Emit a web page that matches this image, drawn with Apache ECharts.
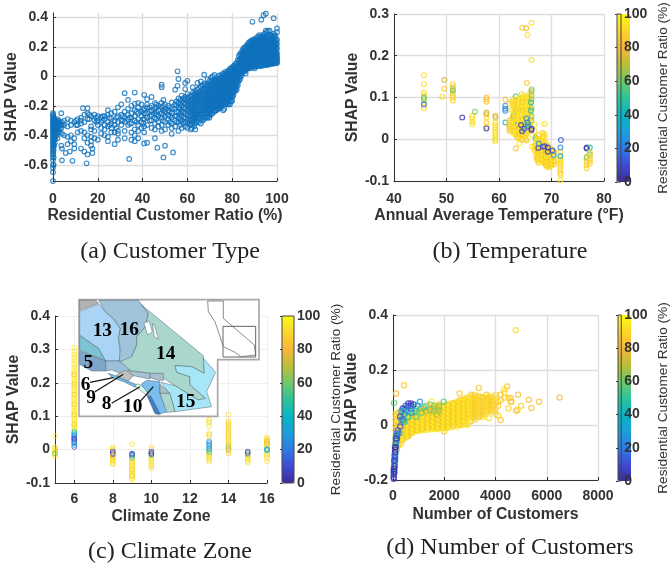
<!DOCTYPE html>
<html><head><meta charset="utf-8">
<style>html,body{margin:0;padding:0;background:#fff}#c{width:671px;height:565px}</style>
<script src="https://cdn.jsdelivr.net/npm/echarts@6/dist/echarts.min.js"></script>
</head><body><div id="c"></div>
<script>
// ---------- data ----------
const yTicksA=[-0.6,-0.4,-0.2,0,0.2,0.4];
const xTicksC=[6,8,10,12,14,16];
const captions=['(a) Customer Type','(b) Temperature','(c) Climate Zone','(d) Number of Customers'];
const ratioName='Residential Customer Ratio (%)';

// panel a: [ratio, [shap...]]
const aColumns=[
[0,[-.71,-.65,-.62,-.6,-.57,-.55,-.53,-.51,-.49,-.47,-.45,-.43,-.41,-.39,-.37,-.35,-.33,-.31,-.29,-.27,-.25]],
[.3,[-.6,-.55,-.5,-.46,-.42,-.38,-.36,-.34,-.32,-.3,-.28]],
[.8,[-.45,-.41,-.38,-.35,-.33,-.31,-.29]],[1.5,[-.4,-.37,-.35,-.33,-.31,-.3]],[2.5,[-.37,-.34,-.32,-.3]],
[3.7,[-.47,-.35,-.33,-.25]],[4,[-.57,-.49,-.39,-.33,-.31]],
[5,[-.4,-.3,-.33]],[5.7,[-.52]],[6.5,[-.29,-.41,-.34,-.46]],[7.5,[-.51]],[8,[-.3,-.4,-.44,-.33]],[8.7,[-.573]],[9.5,[-.31,-.42,-.46,-.49]],
[11,[-.29,-.38,-.33]],[12.5,[-.3,-.37,-.32,-.28,-.49]],[13.4,[-.216]],[14,[-.26,-.31,-.38,-.42,-.51]],[15,[-.59]],[15.4,[-.216,-.25,-.29,-.4,-.45,-.53]],
[17,[-.27,-.34,-.36,-.41,-.44,-.47]],[17.6,[-.52,-.49]],[18.5,[-.26,-.3,-.37,-.42]],[20,[-.27,-.3,-.33,-.43]],[21.5,[-.28,-.31,-.35,-.39]],
[23,[-.27,-.29,-.33,-.36,-.4]],[24.5,[-.23,-.26,-.31,-.34,-.41,-.44]],[26,[-.25,-.29,-.32,-.35,-.38]],[27.5,[-.24,-.3,-.33,-.46,-.38]],
[29,[-.21,-.27,-.31,-.37,-.39,-.43]],[30.5,[-.19,-.26,-.3,-.33]],[32,[-.114,-.24,-.28,-.31,-.37,-.42]],[33.5,[-.16,-.22,-.26,-.29,-.33]],[34,[-.56]],
[35,[-.2,-.25,-.28,-.32,-.38,-.43]],[36.5,[-.11,-.186,-.23,-.27,-.3,-.36,-.4,-.44]],[38,[-.18,-.21,-.25,-.29,-.33,-.37,-.42]],[39.5,[-.19,-.24,-.27,-.31,-.35]],
[40.7,[-.125,-.22,-.25,-.29,-.34,-.38,-.455]],[42,[-.155,-.19,-.21,-.25,-.28,-.33,-.45]],[44,[-.14,-.2,-.23,-.26,-.3,-.35]],[45.5,[-.18,-.22,-.25,-.28,-.32,-.36,-.42]],
[46.6,[-.484]],[47,[-.2,-.23,-.27,-.31,-.34]],[48.5,[-.057,-.073,-.18,-.21,-.25,-.28,-.33,-.37]],[49.3,[-.16,-.55]],[50,[-.19,-.22,-.24,-.27,-.31,-.36,-.47]],
[51.5,[-.2,-.23,-.26,-.29,-.33]],[53,[-.177,-.22,-.25,-.28,-.32,-.35,-.39]],[53.6,[-.516]],[54.5,[-.19,-.22,-.27,-.3,-.34,-.09]],[55.6,[.034,-.064]],
[56,[-.018,-.15,-.18,-.21,-.24,-.28,-.31,-.37]],[57.5,[-.13,-.17,-.2,-.24,-.27,-.3,-.35]],[59,[-.045,-.086,-.14,-.16,-.19,-.22,-.25,-.28,-.31,-.34]],
[60,[-.03,-.12,-.15,-.18,-.2,-.23,-.26,-.29,-.31,-.35]],[61.5,[-.13,-.16,-.19,-.21,-.24,-.27,-.3,-.33,-.36]],[62.4,[-.073,-.11,-.15,-.18,-.22,-.25,-.28,-.31]],
[63.5,[-.1,-.13,-.16,-.19,-.21,-.24,-.26,-.29,-.32,-.36]],[64.5,[-.045,-.09,-.12,-.15,-.17,-.2,-.22,-.25,-.27,-.3]],[66,[-.034,-.07,-.1,-.125,-.15,-.17,-.19,-.22,-.24,-.26,-.29,-.32]],
[67.5,[.011,-.05,-.08,-.1,-.12,-.14,-.16,-.18,-.2,-.22,-.24,-.27,-.29]],[69,[-.02,-.05,-.07,-.09,-.11,-.13,-.15,-.17,-.19,-.21,-.23,-.25,-.27,-.28]],
[70.5,[-.01,-.04,-.06,-.08,-.1,-.12,-.14,-.16,-.18,-.2,-.22,-.24,-.26]],[72,[.01,-.02,-.04,-.06,-.08,-.1,-.12,-.14,-.16,-.18,-.2,-.22,-.24]],
[73,[-.01,-.03,-.05,-.07,-.09,-.11,-.13,-.15,-.17,-.19,-.21,-.23]],[74,[.005,-.02,-.04,-.06,-.08,-.1,-.12,-.14,-.16,-.18,-.2,-.22]],
[75,[.01,-.01,-.03,-.05,-.07,-.09,-.11,-.13,-.15,-.17,-.19,-.21]],[76,[.02,0,-.02,-.04,-.06,-.08,-.1,-.12,-.14,-.16,-.18,-.23]],
[77,[.03,.01,-.01,-.03,-.05,-.07,-.09,-.11,-.13,-.15,-.17,-.19]],[78,[.035,.015,-.005,-.025,-.045,-.065,-.085,-.105,-.125,-.145,-.165,-.19]],
[79,[.05,.03,.01,-.01,-.03,-.05,-.07,-.09,-.11,-.13,-.15,-.17,-.19]],[80,[.06,.04,.02,0,-.02,-.04,-.06,-.08,-.1,-.12,-.14,-.165]],
[81,[.075,.055,.035,.015,-.005,-.025,-.045,-.065,-.085,-.105]],[82,[.09,.07,.05,.03,.01,-.01,-.03,-.05,-.07,-.09]],
[83,[.14,.11,.09,.07,.05,.03,.01,-.01,-.03]],[84,[.16,.14,.12,.1,.08,.06,.04,.02,0]],[85,[.19,.17,.15,.13,.11,.09,.07,.05,.03]],
[86,[.2,.18,.16,.14,.12,.1,.08,.06,.04,.02]],[87,[.22,.2,.18,.16,.14,.12,.1,.08,.06]],[88,[.235,.21,.19,.17,.15,.13,.11,.09,.07,.055]],
[89,[.245,.225,.205,.185,.165,.145,.125,.105,.085,.065,.37]],[90,[.25,.23,.21,.19,.17,.15,.13,.11,.09,.07,.055]],[91,[.25,.23,.21,.19,.17,.15,.13,.11,.09,.07]],
[92,[.28,.26,.24,.22,.2,.18,.16,.14,.12,.1,.08,.07]],[93,[.385,.275,.25,.23,.21,.19,.17,.15,.13,.11,.09,.07]],[94,[.27,.25,.23,.21,.19,.17,.15,.13,.11,.09,.075,.415]],
[95,[.425,.31,.27,.25,.23,.21,.19,.17,.15,.13,.11,.09,.075]],[96,[.31,.28,.26,.24,.22,.2,.18,.16,.14,.12,.1,.08]],[96.7,[.31,.25,.23,.21,.19,.17,.15,.13,.11,.09,.08]],
[97.5,[.28,.26,.24,.22,.2,.18,.16,.14,.12,.1,.085]],[98.5,[.395,.29,.27,.24,.22,.2,.18,.16,.14,.12,.1,.085]],[99.3,[.27,.23,.2,.18,.16,.14,.12,.1,.09]],
[100,[.325,.3,.25,.22,.19,.16,.14,.125,.11,.1,.09]]
];
// panel a, second reading of the crowded parts: [ratio, [shap...]]
const aDense=[
[.1,[-.52,-.48,-.44,-.4,-.36,-.34,-.32,-.3,-.26]],[.5,[-.47,-.43,-.4,-.37,-.33,-.31,-.29]],[1,[-.42,-.39,-.36,-.34,-.32,-.3]],[2,[-.42,-.38,-.35,-.32,-.29]],
[3,[-.38,-.36,-.32,-.31]],[10.3,[-.33,-.3]],[16.2,[-.26,-.29]],[19.3,[-.28,-.31]],[22.2,[-.27,-.3]],[25.3,[-.28,-.33]],[28.3,[-.28,-.35]],
[31.2,[-.27,-.3]],[34.3,[-.28,-.32]],[37.3,[-.24,-.31]],[40.3,[-.23,-.29,-.32]],[43.2,[-.21,-.24,-.27,-.3]],
[46.2,[-.19,-.21,-.24,-.26,-.29]],[49.2,[-.2,-.23,-.26,-.3]],[52.2,[-.21,-.24,-.27,-.31]],[55.2,[-.17,-.2,-.24,-.27,-.31]],[56.8,[-.16,-.19,-.22,-.25,-.29,-.33]],[58.2,[-.15,-.18,-.21,-.24,-.28,-.32]],
[60.7,[-.14,-.17,-.19,-.22,-.24,-.27,-.3,-.32]],[62,[-.13,-.16,-.2,-.23,-.26,-.29,-.32,-.35]],[63,[-.12,-.15,-.17,-.2,-.23,-.27,-.3,-.34]],[64,[-.11,-.14,-.16,-.18,-.23,-.26,-.28,-.31]],
[65.2,[-.08,-.11,-.13,-.16,-.18,-.21,-.23,-.26,-.28,-.31]],[66.8,[-.06,-.09,-.11,-.13,-.15,-.18,-.2,-.23,-.25,-.28,-.3]],[68.2,[-.06,-.09,-.11,-.13,-.15,-.17,-.19,-.21,-.23,-.25,-.28]],
[69.8,[-.03,-.06,-.08,-.1,-.12,-.14,-.16,-.18,-.2,-.22,-.24,-.26,-.28]],[71.2,[0,-.03,-.05,-.07,-.09,-.11,-.13,-.15,-.17,-.19,-.21,-.23,-.25]],[72.5,[-.03,-.05,-.07,-.09,-.11,-.13,-.15,-.17,-.19,-.21,-.23]],
[73.5,[-.02,-.04,-.06,-.08,-.1,-.12,-.14,-.16,-.18,-.2,-.22]],[74.5,[-.015,-.035,-.055,-.075,-.095,-.115,-.135,-.155,-.175,-.195,-.215]],[75.5,[0,-.02,-.04,-.06,-.08,-.1,-.12,-.14,-.16,-.18,-.2]],
[76.5,[.01,-.01,-.03,-.05,-.07,-.09,-.11,-.13,-.15,-.17,-.19,-.22]],[77.5,[.02,0,-.02,-.04,-.06,-.08,-.1,-.12,-.14,-.16,-.18]],[78.5,[.04,.02,0,-.02,-.04,-.06,-.08,-.1,-.12,-.14,-.16,-.19]],
[79.5,[.055,.035,.015,-.005,-.025,-.045,-.065,-.085,-.105,-.125,-.145,-.17]],[80.5,[.07,.05,.03,.01,-.01,-.03,-.05,-.07,-.09,-.11,-.13]],[81.5,[.085,.065,.045,.025,.005,-.015,-.035,-.055,-.075,-.095]],
[82.5,[.11,.08,.06,.04,.02,0,-.02,-.04,-.06]],[83.5,[.15,.12,.1,.08,.06,.04,.02,0,-.02]],[84.5,[.175,.15,.13,.11,.09,.07,.05,.03]],[85.5,[.195,.17,.15,.13,.11,.09,.07,.05,.035]],
[86.5,[.21,.19,.17,.15,.13,.11,.09,.07,.05]],[87.5,[.23,.21,.19,.17,.15,.13,.11,.09,.07,.06]],[88.5,[.24,.22,.2,.18,.16,.14,.12,.1,.08,.06]],[89.5,[.25,.23,.21,.19,.17,.15,.13,.11,.09,.07]],
[90.5,[.26,.24,.22,.2,.18,.16,.14,.12,.1,.08,.065]],[91.5,[.27,.24,.22,.2,.18,.16,.14,.12,.1,.08,.07]],[92.5,[.27,.25,.23,.21,.19,.17,.15,.13,.11,.09,.075]],[93.5,[.28,.26,.24,.22,.2,.18,.16,.14,.12,.1,.08]],
[94.5,[.29,.26,.24,.22,.2,.18,.16,.14,.12,.1,.08]],[95.5,[.3,.27,.25,.23,.21,.19,.17,.15,.13,.11,.09,.08]],[96.4,[.27,.25,.23,.21,.19,.17,.15,.13,.11,.09]],[97.1,[.28,.24,.22,.2,.18,.16,.14,.12,.1,.09]],
[98,[.27,.25,.23,.21,.19,.17,.15,.13,.11,.09]],[99,[.28,.25,.22,.2,.17,.15,.13,.11,.095]],[99.7,[.24,.21,.18,.16,.14,.12,.105,.095]]
];

// panels b, c, d: [x, ratio, [shap...]]
const bGroups=[
[45.7,92,[.153,.132,.112,.106,.1,.087,.075]],[45.7,60,[.1,.095]],[45.7,15,[.083]],
[49.2,88,[.102]],[49.6,72,[.142]],[49.6,85,[.121]],
[51.2,88,[.132,.125,.11,.105,.1,.093]],[51.2,65,[.12,.116]],
[53,5,[.052]],[54.9,92,[.056,.05,.042,.036]],[55.4,62,[.066]],
[57.6,84,[.1,.095,.09]],[57.6,74,[.064,.06]],[57.6,90,[.052,.04,.03]],[57.6,4,[.026]],
[59.3,76,[.056,.052]],[59.3,92,[.04,.034,.028,.022,.016,.01,.005,0,-.005]],
[61.2,84,[.095]],[61.2,25,[.08,.073,.068]],[61.2,42,[.04]],
[62,85,[.085,.045,.04,.035,.03,.025,.02]],
[62.7,96,[.095,.085,.075,.065,.055,.045,.035,.025,.015]],[62.8,40,[.055]],
[63.1,96,[.09,.08,.07,.06,.05,.04,.03,.02,.01]],[63.2,85,[-.022]],[63.2,55,[.103,.07]],
[63.5,88,[.085,.075,.065,.055,.045,.035,.025,.015,.005]],[63.6,30,[.035]],
[63.9,98,[.095,.085,.075,.065,.055,.045,.035,.025,.015,-.01]],[64,60,[.03,.015]],
[64.3,88,[.108,.098,.088,.078,.068,.058,.048,.038,.028,.018,.008,-.002]],[64.4,88,[.267]],
[64.7,97,[.105,.095,.085,.075,.065,.055,.045,.035,.025,.015,.005]],
[65.1,88,[.1,.09,.08,.07,.06,.05,.04,.03,.02,.01,0]],[65.2,78,[.266]],[65.4,92,[.25]],[65.3,85,[.135]],
[65.5,96,[.098,.088,.078,.068,.058,.048,.038,.028,.018]],
[65.9,90,[.11,.1,.09,.08,.07,.06,.05,.04,.03,.02]],[66.2,92,[.279,.19]],
[62.4,90,[.09,.07,.05,.04,.03,.02]],[62.9,88,[.09,.08,.06,.05,.03,.02]],[63.3,94,[.095,.078,.062,.048,.028,.012]],[63.7,90,[.09,.07,.05,.03,.01,.002]],
[64.1,95,[.1,.08,.06,.04,.02,.006]],[64.5,86,[.1,.09,.07,.05,.03,.012,0]],[64.9,94,[.1,.08,.06,.04,.02,.01]],[65.3,90,[.095,.075,.055,.035,.015,-.003]],[65.7,95,[.105,.085,.065,.045,.025]],
[66.2,65,[.12,.115,.105,.095,.075,.055,.045]],[66.1,45,[.088,.068]],[66.3,95,[-.018,.01]],
[66.8,92,[.035,.02,-.015,-.02,-.028]],[67,60,[.005,.0]],
[67.1,92,[-.005,-.012,-.02,-.028,-.036,-.044]],[67.5,88,[.01,0,-.008,-.016,-.024,-.032,-.04,-.048,-.057]],
[67.9,92,[.002,-.008,-.018,-.028,-.038,-.048]],[68.3,85,[.015,.005,-.005,-.015,-.025,-.035,-.045,-.053]],
[68.7,92,[.037,.012,.002,-.01,-.02,-.03,-.04,-.05,-.058]],[68.8,60,[-.035]],
[69.2,94,[-.012,-.022,-.032,-.042,-.052,-.062,-.067]],
[69.6,88,[-.02,-.03,-.04,-.05,-.06,-.066]],[70,92,[-.025,-.035,-.045,-.055,-.062]],[70.5,84,[-.03,-.042,-.052,-.06]],
[67.3,86,[-.01,-.026,-.042,-.05]],[67.7,94,[-.004,-.02,-.034,-.044,-.052]],[68.1,90,[-.012,-.022,-.04,-.05]],[68.5,94,[.008,-.012,-.03,-.042,-.055]],[68.9,86,[-.014,-.026,-.044,-.056,-.062]],[69.4,92,[-.026,-.046,-.058,-.065]],[69.9,86,[-.03,-.05,-.06]],[70.3,94,[-.032,-.048,-.058]],
[71.7,88,[-.03,-.05,-.058,-.065,-.072,-.08,-.085]],[71.7,95,[-.098,-.045,-.055]],[71.8,15,[-.002]],[71.7,25,[-.02]],[71.7,35,[-.04]],
[76.7,90,[-.042,-.05,-.056,-.062,-.07]],[76.7,60,[-.044]],[76.7,3,[-.02,-.022]],
[77.3,45,[-.02]],[77.3,55,[-.036]],[77.3,88,[-.032,-.04,-.046,-.052,-.058]],
[64.2,5,[.034]],[64.4,8,[.019]],[64.8,12,[.025]],[65.4,18,[.04,.03]],[65.2,25,[.05]],[65.6,35,[.035]],[66.2,5,[.025,.022]],
[67.5,5,[-.021]],[67.6,30,[-.01]],[68.4,8,[-.018]],[68.7,10,[-.017]],[69.3,5,[-.02,-.03]],[70.2,8,[-.027]],[70.4,30,[-.038]]
];
const cGroups=[
[5,94,[.04,.008,.004,0,-.004,-.008,-.014,-.02]],[5,55,[-.012]],
[6,95,[.305,.292,.285,.275,.268,.258,.25,.243,.236,.23,.224,.218,.212,.206,.2,.194,.188,.182,.176,.17,.164,.158,.152,.146,.14,.134,.128,.122,.116,.11,.104,.098,.092,.086,.08,.074,.068,.062]],
[6,85,[.225,.195,.165,.135,.105,.075]],[6,55,[.055]],[6,42,[.05,.046]],[6,25,[.043,.04,.036]],[6,10,[.033,.03,.026,.022]],[6,5,[.008]],[6,30,[.018,.014]],
[8,92,[.006,.002,-.002,-.02,-.024,-.028,-.032,-.036,-.04,-.044]],[8,8,[-.006,-.01,-.014]],[8,80,[-.018]],
[9,94,[.016,-.03,-.035,-.04,-.045,-.05,-.055,-.06,-.065,-.07,-.075,-.08,-.085,-.09]],[9,85,[-.04,-.06,-.078]],[9,60,[-.025,-.022]],[9,30,[-.018]],[9,8,[-.012,-.015]],
[10,93,[.006,.002,-.02,-.025,-.03,-.035,-.04,-.045,-.05,-.056]],[10,45,[-.016]],[10,5,[-.006,-.01,-.013]],
[13,92,[.09,.085,.08,.07,.05,.04,-.01,-.015,-.02,-.025,-.03,-.036]],[13,60,[-.004,-.008]],[13,40,[.004,.0]],[13,25,[.025,.02,.015,.01]],[13,88,[.045]],
[14,90,[.105,.085,.08,.075,.07,.065,.06,.055,.05,.045,.04,.035,.03,.025,.02,.015,-.012]],[14,70,[.01,.005,0]],[14,85,[-.005]],
[15,92,[-.018,-.022,-.026,-.03,-.034,-.038]],[15,55,[-.014]],[15,5,[-.006,-.01]],
[16,92,[.036,.032,.028,.024,.02,.016,.012,.008,-.008,-.014,-.02,-.026,-.035]],[16,80,[.026,.018]],[16,35,[.002,0,-.002]]
];
const dGroups=[
[120,80,[.115]],[430,88,[.145]],[40,58,[.08]],[4790,92,[.345]],[6500,82,[.1]],[5700,85,[.085]],[5300,82,[.092]],[5400,85,[.062]],[5000,90,[.07]],[4880,84,[.11]],[4860,88,[.055]],[4800,86,[.052]],[4620,92,[.085]],
[4450,84,[.14]],[4350,92,[.13,.118,.1]],[4500,88,[.098,.06]],[4600,84,[.098,.085]],[4200,85,[.11,.09,.018]],[4100,88,[.085,.07,.035]],[4000,90,[.11,.1,.08,.06,.04]],[3850,88,[.1,.085,.07,.055]],[3750,92,[.105,.09,.075,.06,.025]],[3650,85,[.11,.095,.08,.065,.05]],[3500,92,[.1,.085,.07,.055,.04,.03]],[3350,85,[.135,.105,.09,.075,.06,.045,.03]],[3200,90,[.11,.095,.08,.065,.05,.035,.02]],[3050,86,[.11,.095,.08,.065,.05,.035,.015]],
[3925,86,[.09,.072,.05]],[3800,92,[.095,.078,.064,.048]],[3700,86,[.098,.082,.068,.052]],[3575,92,[.098,.082,.066,.05,.038]],[3425,86,[.1,.082,.066,.05,.036]],[3275,92,[.1,.085,.07,.056,.042,.028]],[3125,86,[.105,.088,.072,.058,.042,.026]],[2975,94,[.1,.085,.072,.058,.042,.028,.012]],
[2900,92,[.1,.085,.07,.055,.04,.025,0]],[2800,85,[.095,.08,.065,.05,.035,.02,.005]],[2700,94,[.09,.075,.06,.045,.03,.015,.0]],[2600,86,[.115,.09,.075,.06,.045,.03,.015,.0]],[2500,95,[.085,.07,.055,.04,.025,.01,-.005]],[2400,85,[.08,.065,.05,.035,.02,.005]],[2300,93,[.08,.065,.05,.035,.02,.005,-.008]],[2200,86,[.075,.06,.045,.03,.015,0]],[2100,96,[.075,.06,.045,.03,.015,0,-.01]],[2000,88,[.07,.055,.04,.025,.01,-.005,-.024]],[1900,96,[.07,.055,.04,.025,.01,-.005,-.012]],[1800,84,[.075,.06,.045,.03,.015,0]],[1700,95,[.07,.055,.04,.025,.01,-.005,-.015]],[1600,86,[.065,.05,.035,.02,.005,-.012]],[1500,96,[.085,.06,.045,.03,.015,0,-.015]],[1400,84,[.06,.045,.03,.015,0,-.012]],[1300,96,[.055,.04,.025,.01,-.005,-.018]],[1200,88,[.055,.04,.025,.01,-.005,-.015]],[1100,95,[.05,.035,.02,.005,-.01,-.018]],[1000,85,[.05,.035,.02,.005,-.01,-.02]],[900,92,[.045,.03,.015,0,-.015,-.022]],[800,84,[.04,.025,.01,-.005,-.02]],[700,92,[.035,.02,.005,-.01,-.025]],[600,84,[.03,.015,0,-.015,-.03,-.04]],[500,92,[.025,.01,-.005,-.02,-.035,-.045]],[400,84,[.03,.01,-.01,-.03,-.05]],[300,92,[.05,.03,.01,-.01,-.03,-.05,-.07]],[200,86,[.045,.025,.005,-.015,-.035,-.055,-.075]],[100,92,[.04,.02,0,-.02,-.04,-.06,-.08]],
[2850,95,[.092,.078,.062,.048,.032,.018,.004]],[2750,88,[.092,.072,.058,.042,.028,.012]],[2650,95,[.085,.068,.052,.038,.022,.008]],[2550,88,[.082,.065,.048,.032,.018,.002]],[2450,95,[.078,.062,.048,.032,.018,.002]],[2350,86,[.075,.058,.042,.028,.012,-.002]],[2250,96,[.072,.055,.04,.024,.008]],[2150,85,[.072,.052,.038,.022,.008,-.006]],[2050,96,[.068,.05,.034,.018,.003,-.012]],[1950,86,[.065,.048,.032,.018,.002,-.01]],[1850,96,[.066,.05,.034,.018,.002,-.01]],[1750,84,[.065,.048,.032,.018,.002,-.012]],[1650,96,[.062,.045,.028,.012,-.002,-.014]],[1550,84,[.06,.042,.026,.01,-.006]],[1450,96,[.055,.038,.022,.006,-.008]],[1350,85,[.055,.035,.02,.005,-.01]],[1250,96,[.05,.032,.018,.002,-.012]],[1150,85,[.048,.03,.014,0,-.014]],[1050,96,[.045,.028,.012,-.004,-.016]],[950,85,[.042,.026,.01,-.006,-.018]],[850,96,[.035,.02,.004,-.012,-.022]],[750,85,[.032,.016,0,-.016,-.028]],[650,96,[.028,.012,-.004,-.02,-.034]],[550,85,[.03,.012,-.008,-.025,-.04]],[450,96,[.03,.01,-.012,-.028,-.045]],[350,85,[.035,.012,-.008,-.03,-.055]],[250,95,[.04,.018,-.005,-.028,-.05,-.068]],[150,85,[.035,.015,-.008,-.03,-.05,-.07,-.09]],
[1980,58,[.085]],[1800,62,[.068,.052]],[1600,66,[.07,.05]],[1700,70,[.06,.04]],[1450,62,[.075,.055]],[1300,68,[.07,.05]],[1200,48,[.065]],[1100,60,[.06,.045]],[1050,30,[.085]],[950,40,[.07]],[900,55,[.06,.03]],[800,8,[.075]],[850,50,[.05]],[700,6,[.078,.07]],[600,5,[.078,.068]],[720,25,[.06,.045]],[600,45,[.05,.03]],[500,12,[.07,.055]],[450,25,[.06,.04]],[380,5,[.06,.018]],[400,55,[.05,.03]],[330,25,[.05,.02]],[450,40,[.012]],[330,60,[.01]],[280,10,[.03,-.005]],[250,35,[-.03]],
[180,15,[-.02,-.03]],[150,8,[-.04,-.05]],[130,28,[-.035,-.055]],[110,5,[-.05,-.065,-.08]],[100,42,[-.07,-.1]],[80,3,[-.08,-.09,-.1,-.115]],[80,25,[-.12,-.13]],[60,12,[-.11,-.125,-.14]],[70,45,[-.14,-.15]],[50,5,[-.13,-.15,-.16,-.17]],[50,35,[-.175]],[30,4,[-.16,-.17,-.18,-.19,-.195]]
];

// ---------- helpers ----------
const ring='path://M50 0A50 50 0 1 1 50 100A50 50 0 1 1 50 0ZM50 20A30 30 0 1 0 50 80A30 30 0 1 0 50 20Z';
const thinRing='path://M50 0A50 50 0 1 1 50 100A50 50 0 1 1 50 0ZM50 14A36 36 0 1 0 50 86A36 36 0 1 0 50 14Z';
const parula=['#3b2c97','#3f4bd4','#2f7be6','#1b9fd9','#08b6c2','#2fc29a','#70c96a','#bcbd3a','#f7b73a','#fcd52a','#f9fb15'];
const flat=g=>g.flatMap(([x,r,ys])=>ys.map(y=>[x,y,r]));
const ink='#333';
const label={color:ink,fontFamily:'Liberation Sans',fontWeight:'bold',fontSize:14,margin:5,formatter:v=>String(v)};
function axis(o){
  return Object.assign({type:'value',nameLocation:'middle',
    nameTextStyle:{color:ink,fontFamily:'Liberation Sans',fontWeight:'bold',fontSize:15.8},
    axisLine:{show:true,onZero:false,lineStyle:{color:ink,width:1}},
    axisTick:{show:true,inside:true,length:3,lineStyle:{color:ink}},
    axisLabel:label,
    splitLine:{show:true,lineStyle:{color:'#dedede',width:1.3}}},o);
}
const lab=m=>Object.assign({},label,{margin:m});
const faint={show:true,lineStyle:{color:'#efefef',width:1}};

const plots=[{left:53,top:13,width:224,height:168},{left:394,top:14,width:210,height:167},{left:55,top:316,width:212,height:167},{left:393,top:315,width:205,height:165}];
const bars=[{left:617,top:14,width:13,height:168},{left:282,top:316,width:12,height:167},{left:618,top:315,width:13,height:166}];

const aData=aColumns.concat(aDense).flatMap(([x,ys])=>ys.map(y=>[x,y]));

const xAxes=[
  axis({gridIndex:0,min:0,max:100,interval:20,name:ratioName,nameGap:27,axisLabel:lab(11)}),
  axis({gridIndex:1,min:40,max:80,interval:10,name:'Annual Average Temperature (°F)',nameGap:27,axisLabel:lab(11)}),
  axis({gridIndex:2,min:5,max:16,name:'Climate Zone',nameGap:26,splitLine:faint,
        axisTick:{show:true,inside:true,length:3,lineStyle:{color:ink},customValues:xTicksC},
        axisLabel:Object.assign(lab(9),{customValues:xTicksC})}),
  axis({gridIndex:3,min:0,max:8000,interval:2000,name:'Number of Customers',nameGap:27,axisLabel:lab(9)})
];
const yAxes=[
  axis({gridIndex:0,min:-0.71,max:0.43,name:'SHAP Value',nameGap:27,
        axisTick:{show:true,inside:true,length:3,lineStyle:{color:ink},customValues:yTicksA},
        axisLabel:Object.assign(lab(5),{customValues:yTicksA})}),
  axis({gridIndex:1,min:-0.1,max:0.3,interval:0.1,name:'SHAP Value',nameGap:31}),
  axis({gridIndex:2,min:-0.1,max:0.4,interval:0.1,name:'SHAP Value',nameGap:29,splitLine:faint}),
  axis({gridIndex:3,min:-0.2,max:0.4,interval:0.2,name:'SHAP Value',nameGap:29})
];
const grids=plots.slice();
const visualMaps=[];
bars.forEach((b,i)=>{
  grids.push(Object.assign({show:true,borderColor:'#444',borderWidth:1,backgroundColor:'transparent',z:6},b));
  xAxes.push({type:'value',gridIndex:4+i,show:false,min:0,max:1});
  yAxes.push({type:'value',gridIndex:4+i,position:'right',min:0,max:100,interval:20,z:6,
    name:ratioName,nameLocation:'middle',nameGap:35,
    nameTextStyle:{color:ink,fontFamily:'Liberation Sans',fontSize:13.7},
    axisLine:{show:false},axisTick:{show:true,inside:true,length:2,lineStyle:{color:'#333'}},
    splitLine:{show:false},axisLabel:lab(3)});
  visualMaps.push({type:'continuous',seriesIndex:i+1,dimension:2,min:0,max:100,orient:'vertical',
    left:b.left,top:b.top,itemWidth:b.width,itemHeight:b.height,padding:0,text:null,calculable:false,hoverLink:false,
    showLabel:false,inRange:{color:parula}});
});

// map inset (drawn in 3x picture units inside the group)
const poly=(pts,fill)=>({type:'polygon',z:10,shape:{points:pts},style:{fill,stroke:'#4a5a64',lineWidth:1.4}});
const lead=(a,b,c,d)=>({type:'line',z:12,shape:{x1:a,y1:b,x2:c,y2:d},style:{stroke:'#111',lineWidth:3.5}});
const num=(t,x,y)=>({type:'text',z:13,x,y,style:{text:t,align:'center',verticalAlign:'middle',fill:'#000',font:'bold 58px "Liberation Serif"'}});
const mapInset={type:'group',x:75,y:295,scaleX:1/3,scaleY:1/3,z:10,children:[
  {type:'polygon',z:10,shape:{points:[[12,14],[552,14],[552,194],[428,194],[428,364],[12,364]]},style:{fill:'#fff',stroke:'#a8a8a8',lineWidth:5}},
  poly([[14,16],[62,16],[70,24],[14,46]],'#b4b4b4'),
  poly([[72,16],[190,16],[220,55],[212,95],[185,125],[185,150],[170,185],[150,205],[132,197],[135,155],[130,130],[135,100],[115,70],[90,50]],'#9fc3d9'),
  poly([[14,50],[72,26],[90,50],[115,72],[135,100],[130,130],[135,170],[133,198],[92,198],[70,160],[14,120]],'#a9d4f6'),
  poly([[14,122],[70,160],[92,198],[14,165]],'#7cc3d4'),
  poly([[14,168],[92,198],[92,228],[50,228],[14,208]],'#7fa6c8'),
  poly([[200,30],[385,182],[388,235],[350,215],[300,212],[305,232],[345,245],[345,270],[392,310],[370,315],[300,272],[265,250],[225,235],[160,225],[135,200],[170,185],[185,150],[185,125],[212,95],[220,55]],'#a9d6cd'),
  poly([[385,190],[422,232],[395,290],[410,335],[300,350],[285,298],[258,262],[300,272],[370,315],[392,310],[345,270],[345,245],[305,232],[300,212],[350,215],[388,235]],'#a6e6f6'),
  poly([[207,85],[222,78],[232,110],[218,120]],'#ffffff'),
  poly([[232,85],[240,95],[250,132],[238,125]],'#ffffff'),
  poly([[92,198],[133,198],[165,225],[135,235],[110,225],[92,228]],'#9cc0da'),
  poly([[160,228],[225,235],[225,252],[175,242]],'#a9c3d6'),
  poly([[225,235],[265,235],[265,256],[250,256],[225,248]],'#a8bdd0'),
  poly([[125,240],[150,225],[175,242],[160,258],[128,250]],'#c0c0c0'),
  poly([[100,235],[130,245],[150,255],[188,270],[180,277],[150,262],[110,247]],'#6fb8e8'),
  poly([[188,266],[232,290],[215,300],[180,274]],'#d8fbf1'),
  poly([[215,256],[255,260],[255,295],[278,350],[247,358],[226,304],[198,268]],'#7bbdec'),
  poly([[215,300],[228,304],[256,358],[240,356]],'#3f7fca'),
  poly([[255,268],[285,295],[255,295]],'#a9bfcc'),
  poly([[255,295],[285,295],[300,350],[275,352]],'#a9d6cd'),
  {type:'polyline',z:11,shape:{points:[[398,18],[445,18],[445,70],[538,150],[542,180],[498,185],[480,172],[445,155],[420,80],[400,50],[398,18]]},style:{fill:'none',stroke:'#555',lineWidth:2}},
  {type:'rect',z:11,shape:{x:444,y:94,width:98,height:92},style:{fill:'none',stroke:'#666',lineWidth:3}},
  lead(45,262,115,248),lead(60,290,145,238),lead(110,325,195,275),lead(195,320,235,275),
  num('13',82,108),num('16',163,105),num('14',272,178),num('5',40,205),num('6',32,270),num('9',48,308),num('8',95,328),num('10',173,335),num('15',332,322)
]};

const cap=(t,x,y)=>({type:'text',z:10,x,y,style:{text:t,align:'center',verticalAlign:'middle',fill:'#222',font:'24px "Liberation Serif"'}});
const sc=(i,data,sym,size,extra)=>Object.assign({type:'scatter',xAxisIndex:i,yAxisIndex:i,data,symbol:sym,symbolSize:size,animation:false,silent:true},extra||{});

echarts.init(document.getElementById('c'),null,{renderer:'canvas'}).setOption({
  animation:false,backgroundColor:'#fff',
  grid:grids,xAxis:xAxes,yAxis:yAxes,visualMap:visualMaps,
  graphic:{elements:[mapInset,cap(captions[0],170,252),cap(captions[1],510,252),cap(captions[2],170,552),cap(captions[3],510,548)]},
  series:[
    sc(0,aData,ring,5.8,{itemStyle:{color:'#0f72bd'}}),
    sc(1,flat(bGroups),ring,6),
    sc(2,flat(cGroups),thinRing,5.5,{itemStyle:{opacity:.8}}),
    sc(3,flat(dGroups),ring,6.5)
  ]
});
</script></body></html>
